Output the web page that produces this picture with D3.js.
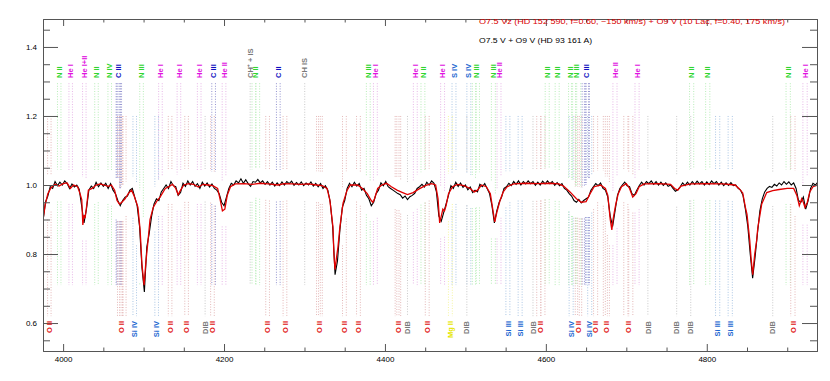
<!DOCTYPE html>
<html><head><meta charset="utf-8">
<script src="https://cdn.jsdelivr.net/npm/d3@7"></script>
<style>body{margin:0;background:#fff}svg{display:block}text{font-family:"Liberation Sans",Arial,sans-serif}</style>
</head><body><svg id="c" width="830" height="381"></svg>
<script>
// ---------------- DATA ----------------
const legendLabels = [
  "O7.5 Vz (HD 152 590, f=0.60, \u2212150 km/s) + O9 V (10 Lac, f=0.40, 175 km/s)",
  "O7.5 V + O9 V (HD 93 161 A)"
];
const xMajorTicks = [4000, 4200, 4400, 4600, 4800];
const yMajorTicks = [0.6, 0.8, 1.0, 1.2, 1.4];
const componentVelocities = [-150, 175];   // km/s

// red: composite model, [wavelength (A), normalised flux]
const modelSpectrum = [
[3975,0.90],[3978,0.945],[3981,0.975],[3985,0.992],[3990,1.002],[3995,0.997],[4000,1.004],[4005,1.006],[4009,0.99],[4013,1.0],
[4018,0.995],[4021,0.975],[4023.2,0.957],[4024.5,0.884],[4026,0.913],[4027.3,0.904],[4029.4,0.942],[4031.4,0.985],[4036,0.99],[4041,1.0],
[4046,1.003],[4051,1.0],[4056,0.996],[4060,1.0],[4064,0.985],[4067,0.955],[4070,0.945],[4073,0.95],[4077,0.96],[4081,0.975],
[4085,0.985],[4088,0.97],[4091,0.95],[4093,0.935],[4095.7,0.87],[4098,0.77],[4100.6,0.71],[4103,0.78],[4105.6,0.84],[4108,0.9],
[4112,0.935],[4117,0.955],[4120.5,0.965],[4127,0.99],[4132,0.996],[4136,1.002],[4140,0.99],[4143,0.972],[4146,0.985],[4150,1.0],
[4156,1.004],[4162,1.002],[4168,0.994],[4174,1.002],[4180,1.0],[4186,0.998],[4192,0.99],[4195,0.96],[4198,0.925],[4201,0.93],
[4204,0.97],[4208,0.995],[4214,1.003],[4225,1.004],[4235,1.002],[4245,1.005],[4255,1.003],[4267,1.0],[4275,1.004],[4285,1.003],
[4295,1.002],[4305,1.003],[4315,1.0],[4322,0.998],[4328,0.99],[4331.5,0.957],[4335.4,0.878],[4336.6,0.80],[4337.9,0.755],[4340.4,0.80],
[4341.6,0.82],[4344,0.878],[4348,0.948],[4353,0.985],[4357,1.0],[4366,1.0],[4372,0.99],[4378,0.975],[4383,0.955],[4385,0.95],
[4387,0.96],[4391,0.99],[4396,1.0],[4402,1.005],[4408,0.995],[4415,0.985],[4422,0.978],[4428,0.972],[4435,0.978],[4442,0.988],
[4450,0.998],[4458,1.004],[4463,1.0],[4466,0.96],[4468,0.89],[4470,0.91],[4472,0.93],[4474,0.925],[4476,0.94],[4479,0.975],
[4484,0.995],[4490,1.002],[4498,0.998],[4506,0.99],[4511,0.98],[4515,0.985],[4520,1.0],[4526,0.995],[4531,0.975],[4534,0.93],
[4536.5,0.893],[4539,0.92],[4543,0.955],[4547,0.98],[4552,0.995],[4560,1.003],[4575,1.005],[4590,1.004],[4605,1.005],[4616,1.003],
[4622,0.997],[4630,0.98],[4638,0.96],[4644,0.95],[4650,0.952],[4655,0.975],[4660,0.995],[4668,1.0],[4674,0.99],[4677,0.97],
[4680,0.9],[4682,0.87],[4683.5,0.9],[4685,0.92],[4687,0.945],[4690,0.975],[4694,0.995],[4700,1.004],[4704,0.99],[4708,0.965],
[4712,0.975],[4716,0.995],[4722,1.003],[4740,1.004],[4755,1.002],[4760,0.99],[4764,0.985],[4768,0.997],[4780,1.003],[4800,1.004],
[4820,1.003],[4835,1.0],[4840,0.99],[4844.7,0.977],[4848,0.935],[4850,0.915],[4853.4,0.84],[4855,0.79],[4857.1,0.74],[4859.6,0.80],
[4862,0.84],[4863.4,0.875],[4868.3,0.945],[4874.5,0.978],[4882,0.984],[4890,0.987],[4900,0.99],[4908,0.99],[4912,0.97],[4915,0.94],
[4918,0.96],[4920,0.95],[4922,0.935],[4925,0.95],[4928,0.98],[4932,0.995],[4938,1.0]
];

// black: observed spectrum, sampled every 3 A from 3975 A
const observedStart = 3975, observedStep = 3;
const observedFlux = [
0.895,0.95,0.968,0.995,0.99,1.01,0.998,1.008,1.0,1.012,
1.004,0.99,1.003,0.994,1.0,0.988,0.94,0.89,0.93,0.985,
0.997,0.99,1.008,0.995,1.006,0.996,1.005,0.99,1.004,0.985,
0.975,0.955,0.94,0.955,0.965,0.968,0.985,0.99,0.965,0.94,
0.88,0.76,0.69,0.82,0.86,0.91,0.945,0.96,0.955,0.98,
0.99,1.0,0.99,1.01,0.998,0.995,0.97,0.978,1.005,0.996,
1.012,1.0,1.01,0.996,1.004,0.99,1.008,0.997,1.006,0.994,
1.003,0.99,0.985,0.975,0.95,0.94,0.965,0.99,1.005,1.0,
1.012,1.006,1.018,1.005,1.015,1.004,0.996,1.01,1.008,1.016,
1.006,1.012,1.002,1.01,1.0,1.008,0.997,1.006,0.998,1.009,
1.0,1.01,1.004,1.011,0.999,1.007,1.0,1.009,0.998,1.006,
1.0,1.009,0.997,1.005,0.995,1.004,0.99,0.998,0.985,0.95,
0.88,0.74,0.78,0.87,0.935,0.955,0.99,1.005,0.995,1.008,
0.997,1.004,0.985,0.99,0.97,0.96,0.94,0.95,0.975,0.985,
1.006,0.998,1.01,0.995,0.99,0.985,0.98,0.975,0.972,0.962,
0.968,0.958,0.966,0.97,0.976,0.99,0.995,1.002,0.994,1.008,
1.0,1.012,1.005,0.98,0.91,0.895,0.92,0.945,0.97,0.998,
0.99,1.008,0.996,1.006,0.993,1.0,0.986,0.994,0.978,0.985,
0.98,1.002,0.995,1.004,0.99,0.975,0.94,0.89,0.925,0.95,
0.965,0.99,0.995,1.005,0.998,1.01,1.002,1.012,1.0,1.01,
1.003,1.012,1.004,1.01,0.999,1.008,1.0,1.011,1.003,1.012,
1.004,1.01,0.999,1.007,0.998,1.004,0.99,0.985,0.975,0.968,
0.955,0.95,0.958,0.948,0.955,0.96,0.965,0.985,0.995,1.004,
0.998,1.006,0.99,0.985,0.965,0.91,0.88,0.925,0.97,0.99,
1.0,1.008,0.998,0.995,0.975,0.97,0.985,0.998,1.008,1.0,
1.01,1.004,1.012,1.002,1.01,1.0,1.008,0.999,1.006,0.996,
1.0,0.99,0.982,0.986,0.995,1.006,0.998,1.008,1.0,1.01,
1.002,1.011,1.003,1.01,1.0,1.009,1.001,1.012,1.004,1.01,
1.0,1.008,0.998,1.006,0.999,1.007,0.998,1.0,0.99,0.985,
0.97,0.93,0.88,0.8,0.73,0.79,0.86,0.925,0.96,0.98,
0.99,0.996,0.993,1.002,0.997,1.006,1.0,1.01,1.002,1.009,
1.0,1.006,0.99,0.955,0.95,0.965,0.93,0.955,0.99,1.005,
1.0,1.008
];

// stellar lines labelled at the top: [ion, rest wavelengths]
const topLines = [
["N II",[3995.00]],["He I",[4009.26]],["He I+II",[4026.19]],["N II",[4041.31]],["N IV",[4057.76]],
["C III",[4067.94,4068.91,4070.26]],["N III",[4097.33]],["He I",[4120.81]],["He I",[4143.76]],["He I",[4168.97]],
["C III",[4186.90]],["He II",[4199.83]],["N II",[4236.91,4241.78]],["C II",[4267.26]],["N III",[4379.11]],
["He I",[4387.93]],["He I",[4437.55]],["N II",[4447.03]],["He I",[4471.48]],["S IV",[4485.64]],
["S IV",[4504.10]],["N III",[4510.91,4514.86]],["N III",[4534.58]],["He II",[4541.59]],["N II",[4601.48]],
["N II",[4613.87]],["N II",[4630.54]],["N III",[4634.14,4640.64]],["C III",[4647.42,4650.25,4651.47]],["He II",[4685.71]],
["He I",[4713.15]],["N II",[4781.0]],["N II",[4801.0]],["N II",[4901.0]],["He I",[4921.93]]
];
// interstellar lines labelled at the top
const topInterstellar = [["CH\u207A + IS",[4232.5]],["CH IS",[4300.3]]];
// stellar lines labelled at the bottom
const bottomLines = [
["O II",[3982.71]],["O II",[4069.62,4072.16,4075.86]],["Si IV",[4088.86]],["Si IV",[4116.10]],["O II",[4132.80]],
["O II",[4153.30]],["O II",[4185.44]],["O II",[4253.98]],["O II",[4275.55]],["O II",[4317.14,4319.63]],
["O II",[4349.43]],["O II",[4366.89]],["O II",[4414.90,4416.97]],["O II",[4452.37]],["Mg II",[4481.13]],
["Si III",[4552.62]],["Si III",[4567.84]],["O II",[4590.97,4596.18]],["Si IV",[4631.24]],["O II",[4638.86,4641.81]],
["Si IV",[4654.32]],["O II",[4661.63]],["O II",[4673.73,4676.24]],["O II",[4699.22,4705.35]],["Si III",[4813.33]],
["Si III",[4828.96]],["O II",[4906.83]]
];
// diffuse interstellar bands labelled at the bottom
const bottomInterstellar = [["DIB",[4176.5]],["DIB",[4428.0]],["DIB",[4501.8]],["DIB",[4584.0]],["DIB",[4726.8]],
["DIB",[4762.6]],["DIB",[4780.1]],["DIB",[4882.0]]];

// ---------------- DRAW ----------------
const svg = d3.select("#c");
const x = d3.scaleLinear().domain([3975, 4937]).range([43, 817]);
const y = d3.scaleLinear().domain([0.519, 1.481]).range([351, 19]);
const cLight = 299792.458;

const observed = observedFlux.map((f, i) => [observedStart + i * observedStep, f]);

function labelColor(lbl) {
  if (lbl.startsWith("CH") || lbl.startsWith("DIB")) return "#7a7a7a";
  if (lbl.startsWith("He")) return "#e010e0";
  if (lbl.startsWith("N ")) return "#2fd62f";
  if (lbl.startsWith("C ")) return "#1010c0";
  if (lbl.startsWith("Si") || lbl.startsWith("S ")) return "#1a66d0";
  if (lbl.startsWith("O ")) return "#e01010";
  if (lbl.startsWith("Mg")) return "#e6e600";
  return "#000";
}
function dotColor(lbl) {
  if (lbl.startsWith("CH") || lbl.startsWith("DIB")) return "#b8b8b8";
  if (lbl.startsWith("He")) return "#e0a0e0";
  if (lbl.startsWith("N ")) return "#a0e8a0";
  if (lbl.startsWith("C ")) return "#7070c0";
  if (lbl.startsWith("Si") || lbl.startsWith("S ")) return "#90b4dc";
  if (lbl.startsWith("O ")) return "#dca0a0";
  if (lbl.startsWith("Mg")) return "#f2f280";
  return "#bbb";
}
function localRange(lw) {
  let lo = Infinity, hi = -Infinity;
  for (const [l, f] of modelSpectrum.concat(observed)) {
    if (Math.abs(l - lw) <= 4.5) { lo = Math.min(lo, f); hi = Math.max(hi, f); }
  }
  if (lo === Infinity) { lo = 1; hi = 1; }
  return [lo, hi];
}

const markLayer = svg.append("g").attr("opacity", 0.75);
function drawMarks(list, shifted, top, bottom) {
  list.forEach(([lbl, wls]) => {
    wls.forEach(w => {
      const ws = shifted ? componentVelocities.map(v => w * (1 + v / cLight)) : [w];
      ws.forEach(lw => {
        const [lo, hi] = localRange(lw);
        const gTop = hi + 0.035, gBot = lo - 0.045;
        const segs = [];
        if (gTop < top) segs.push([top, gTop]);
        if (gBot > bottom) segs.push([gBot, bottom]);
        segs.forEach(([a, b]) => {
          markLayer.append("line")
            .attr("x1", x(lw)).attr("x2", x(lw))
            .attr("y1", y(a)).attr("y2", y(b))
            .attr("stroke", dotColor(lbl)).attr("stroke-width", 1)
            .attr("stroke-dasharray", "1,1.6");
        });
      });
    });
  });
}
drawMarks(topLines, true, 1.295, 0.71);
drawMarks(topInterstellar, false, 1.295, 0.71);
drawMarks(bottomLines, true, 1.2, 0.62);
drawMarks(bottomInterstellar, false, 1.2, 0.62);

// spectra
svg.append("clipPath").attr("id", "clip").append("rect")
  .attr("x", 43).attr("y", 19).attr("width", 774).attr("height", 332);
const line = d3.line().x(d => x(d[0])).y(d => y(d[1]));
svg.append("path").datum(observed).attr("d", line).attr("clip-path", "url(#clip)")
  .attr("fill", "none").attr("stroke", "#000").attr("stroke-width", 1.1);
svg.append("path").datum(modelSpectrum).attr("d", line).attr("clip-path", "url(#clip)")
  .attr("fill", "none").attr("stroke", "#e00000").attr("stroke-width", 1.3);

// axes
const axisColor = "#555";
const minorX = d3.range(4000, 4937, 50).filter(v => !xMajorTicks.includes(v));
const minorY = d3.range(0.55, 1.48, 0.05).filter(v => !yMajorTicks.some(t => Math.abs(t - v) < 1e-6));
function styleAxis(g) {
  g.selectAll("path,line").attr("stroke", axisColor);
  g.selectAll("text").attr("fill", "#000").style("font-size", "8px");
}
svg.append("g").attr("transform", "translate(0,351)")
  .call(d3.axisBottom(x).tickValues(xMajorTicks).tickSize(-7).tickSizeOuter(0).tickPadding(5).tickFormat(d3.format("d")))
  .call(styleAxis);
svg.append("g").attr("transform", "translate(0,351)")
  .call(d3.axisBottom(x).tickValues(minorX).tickSize(-3.5).tickSizeOuter(0).tickFormat(""))
  .call(styleAxis);
svg.append("g").attr("transform", "translate(0,19)")
  .call(d3.axisTop(x).tickValues(xMajorTicks).tickSize(-7).tickSizeOuter(0).tickFormat(""))
  .call(styleAxis);
svg.append("g").attr("transform", "translate(0,19)")
  .call(d3.axisTop(x).tickValues(minorX).tickSize(-3.5).tickSizeOuter(0).tickFormat(""))
  .call(styleAxis);
svg.append("g").attr("transform", "translate(43,0)")
  .call(d3.axisLeft(y).tickValues(yMajorTicks).tickSize(-15).tickSizeOuter(0).tickPadding(6).tickFormat(d3.format(".1f")))
  .call(styleAxis);
svg.append("g").attr("transform", "translate(43,0)")
  .call(d3.axisLeft(y).tickValues(minorY).tickSize(-7).tickSizeOuter(0).tickFormat(""))
  .call(styleAxis);
svg.append("g").attr("transform", "translate(817,0)")
  .call(d3.axisRight(y).tickValues(yMajorTicks).tickSize(-15).tickSizeOuter(0).tickFormat(""))
  .call(styleAxis);
svg.append("g").attr("transform", "translate(817,0)")
  .call(d3.axisRight(y).tickValues(minorY).tickSize(-7).tickSizeOuter(0).tickFormat(""))
  .call(styleAxis);

// line labels
function labelX(wls, shifted) {
  const all = [];
  wls.forEach(w => (shifted ? componentVelocities.map(v => w * (1 + v / cLight)) : [w]).forEach(l => all.push(l)));
  return x(d3.mean(all));
}
const labelLayer = svg.append("g").style("font-size", "7.5px").style("font-weight", "bold");
function drawLabels(list, shifted, yPos, anchor) {
  list.forEach(([lbl, wls]) => {
    const lx = labelX(wls, shifted);
    labelLayer.append("text")
      .attr("transform", `translate(${lx},${yPos}) rotate(-90)`)
      .attr("dy", "0.35em").attr("text-anchor", anchor)
      .attr("fill", labelColor(lbl)).text(lbl);
  });
}
drawLabels(topLines, true, 78, "start");
drawLabels(topInterstellar, false, 78, "start");
drawLabels(bottomLines, true, 321, "end");
drawLabels(bottomInterstellar, false, 321, "end");

// legend
svg.append("text").attr("x", 479).attr("y", 24).attr("fill", "#d80000")
  .style("font-size", "7.5px").attr("textLength", 306).attr("lengthAdjust", "spacingAndGlyphs")
  .text(legendLabels[0]);
svg.append("text").attr("x", 479).attr("y", 43).attr("fill", "#000")
  .style("font-size", "7.5px").attr("textLength", 113).attr("lengthAdjust", "spacingAndGlyphs")
  .text(legendLabels[1]);
</script></body></html>
